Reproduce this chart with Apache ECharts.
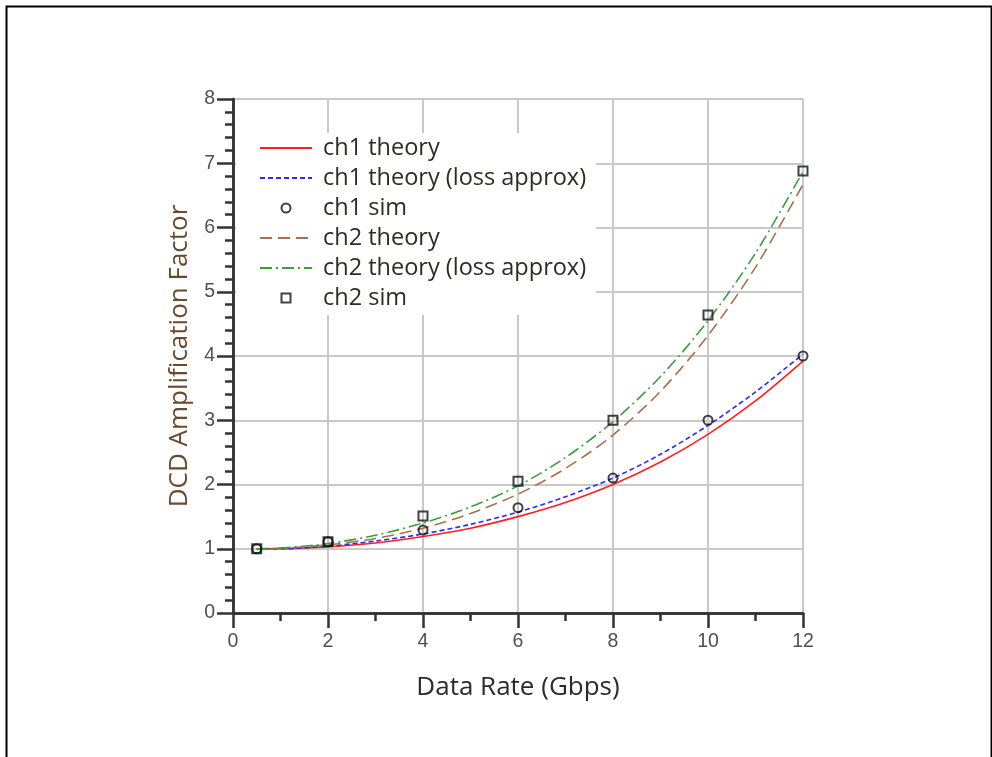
<!DOCTYPE html>
<html>
<head>
<meta charset="utf-8">
<script src="https://cdn.jsdelivr.net/npm/echarts@6/dist/echarts.min.js"></script>
<style>
html,body{margin:0;padding:0;background:#fff;}
#chart{width:992px;height:757px;}
</style>
</head>
<body>
<div id="chart"></div>
<script>
// Data
const xTheory = [0.5, 1, 2, 3, 4, 5, 6, 7, 8, 9, 10, 11, 12];
const ch1Theory = [1.0, 1.0, 1.03, 1.09, 1.19, 1.32, 1.5, 1.72, 2.0, 2.35, 2.78, 3.3, 3.92];
const ch1TheoryLoss = [1.0, 1.0, 1.04, 1.12, 1.23, 1.38, 1.57, 1.81, 2.1, 2.47, 2.92, 3.44, 4.03];
const ch2Theory = [1.0, 1.01, 1.06, 1.16, 1.32, 1.55, 1.85, 2.25, 2.77, 3.45, 4.32, 5.38, 6.67];
const ch2TheoryLoss = [1.0, 1.01, 1.08, 1.21, 1.4, 1.65, 1.98, 2.42, 2.98, 3.68, 4.55, 5.6, 6.87];
const xSim = [0.5, 2, 4, 6, 8, 10, 12];
const ch1Sim = [1.0, 1.11, 1.29, 1.64, 2.1, 3.0, 4.0];
const ch2Sim = [1.0, 1.11, 1.51, 2.05, 3.0, 4.64, 6.88];
const seriesNames = ['ch1 theory', 'ch1 theory (loss approx)', 'ch1 sim', 'ch2 theory', 'ch2 theory (loss approx)', 'ch2 sim'];

const pair = (xs, ys) => xs.map((x, i) => [x, ys[i]]);

const chart = echarts.init(document.getElementById('chart'));

const lineSeries = (name, ys, color, type) => ({
  name, type: 'line', data: pair(xTheory, ys), smooth: 0.3,
  symbol: 'none', showSymbol: false,
  lineStyle: { color, width: 1.6, type },
  itemStyle: { color },
  z: 3
});
const simSeries = (name, ys, symbol) => ({
  name, type: 'scatter', data: pair(xSim, ys), symbol, symbolSize: 9,
  itemStyle: { color: 'rgba(255,255,255,0)', borderColor: '#111', borderWidth: 2 },
  z: 4
});

const squareIcon = 'path://M0,0L10,0L10,10L0,10Z';
const hiddenSymbol = { opacity: 0 };

const option = {
  animation: false,
  backgroundColor: '#fff',
  graphic: [{
    type: 'rect', left: 4, top: 4,
    shape: { x: 0, y: 0, width: 985, height: 800 },
    style: { fill: 'none', stroke: '#000', lineWidth: 2 },
    silent: true
  }],
  grid: { left: 233, right: 189, top: 99, bottom: 144 },
  legend: {
    orient: 'vertical', left: 236, top: 133,
    padding: [0, 10, 2, 23],
    backgroundColor: '#fff',
    itemWidth: 52, itemHeight: 9, itemGap: 0,
    symbolKeepAspect: true,
    textStyle: { fontFamily: 'Open Sans', fontSize: 23.5, color: '#2e2a28', lineHeight: 30, padding: [0, 0, 0, 6] },
    data: [
      { name: seriesNames[0], itemStyle: hiddenSymbol },
      { name: seriesNames[1], itemStyle: hiddenSymbol },
      { name: seriesNames[2], icon: 'circle' },
      { name: seriesNames[3], itemStyle: hiddenSymbol },
      { name: seriesNames[4], itemStyle: hiddenSymbol },
      { name: seriesNames[5], icon: squareIcon }
    ],
    z: 10
  },
  xAxis: [{
    type: 'value', min: 0, max: 12, interval: 2,
    name: 'Data Rate (Gbps)', nameLocation: 'middle', nameGap: 62,
    nameTextStyle: { fontFamily: 'Open Sans', fontSize: 26, color: '#2b2b2b' },
    axisLine: { lineStyle: { color: '#333', width: 2.5 } },
    axisTick: { show: true, inside: false, length: 15, lineStyle: { color: '#333', width: 2.5 } },
    minorTick: { show: true, splitNumber: 2, length: 8, lineStyle: { color: '#333', width: 2.5 } },
    axisLabel: { fontFamily: 'Liberation Sans', fontSize: 19.5, color: '#505050', margin: 19 },
    splitLine: { show: true, lineStyle: { color: '#c9c9c9', width: 2 } }
  }, {
    type: 'value', min: 0, max: 12, position: 'top',
    axisLine: { show: true, lineStyle: { color: '#333', width: 2.5 } },
    axisTick: { show: false }, axisLabel: { show: false }, splitLine: { show: false }
  }],
  yAxis: [{
    type: 'value', min: 0, max: 8, interval: 1,
    name: 'DCD Amplification Factor', nameLocation: 'middle', nameGap: 40,
    nameTextStyle: { fontFamily: 'Open Sans', fontSize: 26, color: '#6a4a2c' },
    axisLine: { show: true, lineStyle: { color: '#333', width: 2.5 } },
    axisTick: { show: true, inside: false, length: 16, lineStyle: { color: '#333', width: 2.5 } },
    minorTick: { show: true, splitNumber: 5, length: 8, lineStyle: { color: '#333', width: 2.5 } },
    axisLabel: { fontFamily: 'Liberation Sans', fontSize: 19.5, color: '#505050', margin: 18 },
    splitLine: { show: true, lineStyle: { color: '#c9c9c9', width: 2 } }
  }, {
    type: 'value', min: 0, max: 8, position: 'right',
    axisLine: { show: true, lineStyle: { color: '#333', width: 2.5 } },
    axisTick: { show: false }, axisLabel: { show: false }, splitLine: { show: false }
  }],
  series: [
    lineSeries(seriesNames[0], ch1Theory, '#ff1f1f', 'solid'),
    lineSeries(seriesNames[1], ch1TheoryLoss, '#2a2aff', [5, 3]),
    simSeries(seriesNames[2], ch1Sim, 'circle'),
    lineSeries(seriesNames[3], ch2Theory, '#a8704a', [12, 6]),
    lineSeries(seriesNames[4], ch2TheoryLoss, '#3c9e3c', [12, 4, 2, 4]),
    simSeries(seriesNames[5], ch2Sim, 'rect')
  ]
};
chart.setOption(option);
</script>
</body>
</html>
